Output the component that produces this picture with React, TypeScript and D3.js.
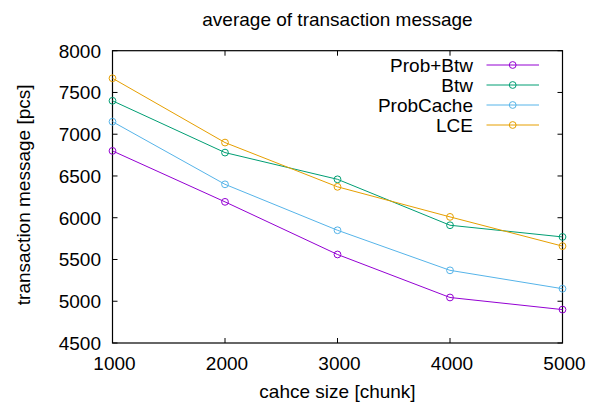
import { useEffect, useRef } from 'react';
import * as d3 from 'd3';

const chunkSizes = [1000, 2000, 3000, 4000, 5000];
const probBtw = [6800, 6190, 5560, 5045, 4900];
const btw = [7400, 6780, 6460, 5910, 5770];
const probCache = [7150, 6400, 5850, 5370, 5150];
const lce = [7670, 6900, 6370, 6010, 5660];

const seriesNames = ['Prob+Btw', 'Btw', 'ProbCache', 'LCE'];
const seriesColors = ['#9400d3', '#009e73', '#56b4e9', '#e69f00'];
const yTicks = [4500, 5000, 5500, 6000, 6500, 7000, 7500, 8000];

const App = () => {
  const svgRef = useRef<SVGSVGElement>(null);

  useEffect(() => {
    const width = 589;
    const height = 403;
    const margin = { top: 50.7, right: 26.5, bottom: 60, left: 112.5 };
    const font = '"Liberation Sans", Arial, sans-serif';
    const fontSize = 19;

    const svg = d3.select(svgRef.current);
    svg.selectAll('*').remove();
    svg.attr('width', width).attr('height', height)
      .style('font-family', font)
      .style('font-size', `${fontSize}px`);

    svg.append('rect').attr('width', width).attr('height', height).attr('fill', '#fff');

    const x = d3.scaleLinear()
      .domain([1000, 5000])
      .range([margin.left, width - margin.right]);
    const y = d3.scaleLinear()
      .domain([4500, 8000])
      .range([height - margin.bottom, margin.top]);

    const tick = 5;
    const [x0, x1] = x.range();
    const [y0, y1] = y.range();

    // ticks (inward, mirrored like gnuplot)
    const ticks = svg.append('g').attr('stroke', '#000').attr('stroke-width', 1);
    chunkSizes.forEach(v => {
      ticks.append('line').attr('x1', x(v)).attr('x2', x(v)).attr('y1', y0).attr('y2', y0 - tick);
      ticks.append('line').attr('x1', x(v)).attr('x2', x(v)).attr('y1', y1).attr('y2', y1 + tick);
    });
    yTicks.forEach(v => {
      ticks.append('line').attr('x1', x0).attr('x2', x0 + tick).attr('y1', y(v)).attr('y2', y(v));
      ticks.append('line').attr('x1', x1).attr('x2', x1 - tick).attr('y1', y(v)).attr('y2', y(v));
    });

    svg.append('rect')
      .attr('x', x0).attr('y', y1)
      .attr('width', x1 - x0).attr('height', y0 - y1)
      .attr('fill', 'none').attr('stroke', '#000').attr('stroke-width', 1.2);

    // tick labels
    svg.append('g').selectAll('text')
      .data(chunkSizes)
      .join('text')
      .attr('x', d => x(d) + 2)
      .attr('y', 370)
      .attr('text-anchor', 'middle')
      .text(d => d);

    svg.append('g').selectAll('text')
      .data(yTicks)
      .join('text')
      .attr('x', 101)
      .attr('y', d => y(d) + 6.8)
      .attr('text-anchor', 'end')
      .text(d => d);

    // titles
    svg.append('text')
      .attr('x', (x0 + x1) / 2).attr('y', 26)
      .attr('text-anchor', 'middle')
      .text('average of transaction message');

    svg.append('text')
      .attr('x', (x0 + x1) / 2).attr('y', 398)
      .attr('text-anchor', 'middle')
      .text('cahce size [chunk]');

    svg.append('text')
      .attr('transform', `translate(30,${(y0 + y1) / 2 - 2}) rotate(-90)`)
      .attr('text-anchor', 'middle')
      .text('transaction message [pcs]');

    // series
    const allSeries = [probBtw, btw, probCache, lce];
    const line = d3.line<number>()
      .x((_, i) => x(chunkSizes[i]))
      .y(d => y(d));

    allSeries.forEach((values, k) => {
      const g = svg.append('g');
      g.append('path')
        .attr('d', line(values))
        .attr('fill', 'none')
        .attr('stroke', seriesColors[k])
        .attr('stroke-width', 1);
      g.selectAll('circle')
        .data(values)
        .join('circle')
        .attr('cx', (_, i) => x(chunkSizes[i]))
        .attr('cy', d => y(d))
        .attr('r', 3.4)
        .attr('fill', 'none')
        .attr('stroke', seriesColors[k])
        .attr('stroke-width', 1);
    });

    // legend
    const legend = svg.append('g');
    seriesNames.forEach((name, k) => {
      const ly = 65 + k * 20;
      legend.append('text')
        .attr('x', 473).attr('y', ly + 6.7)
        .attr('text-anchor', 'end')
        .text(name);
      legend.append('line')
        .attr('x1', 486.5).attr('x2', 539)
        .attr('y1', ly).attr('y2', ly)
        .attr('stroke', seriesColors[k]).attr('stroke-width', 1);
      legend.append('circle')
        .attr('cx', 512.7).attr('cy', ly).attr('r', 3.4)
        .attr('fill', 'none').attr('stroke', seriesColors[k]).attr('stroke-width', 1);
    });
  }, []);

  return <svg ref={svgRef} style={{ position: 'absolute', left: 0, top: 0 }} />;
};

export default App;
